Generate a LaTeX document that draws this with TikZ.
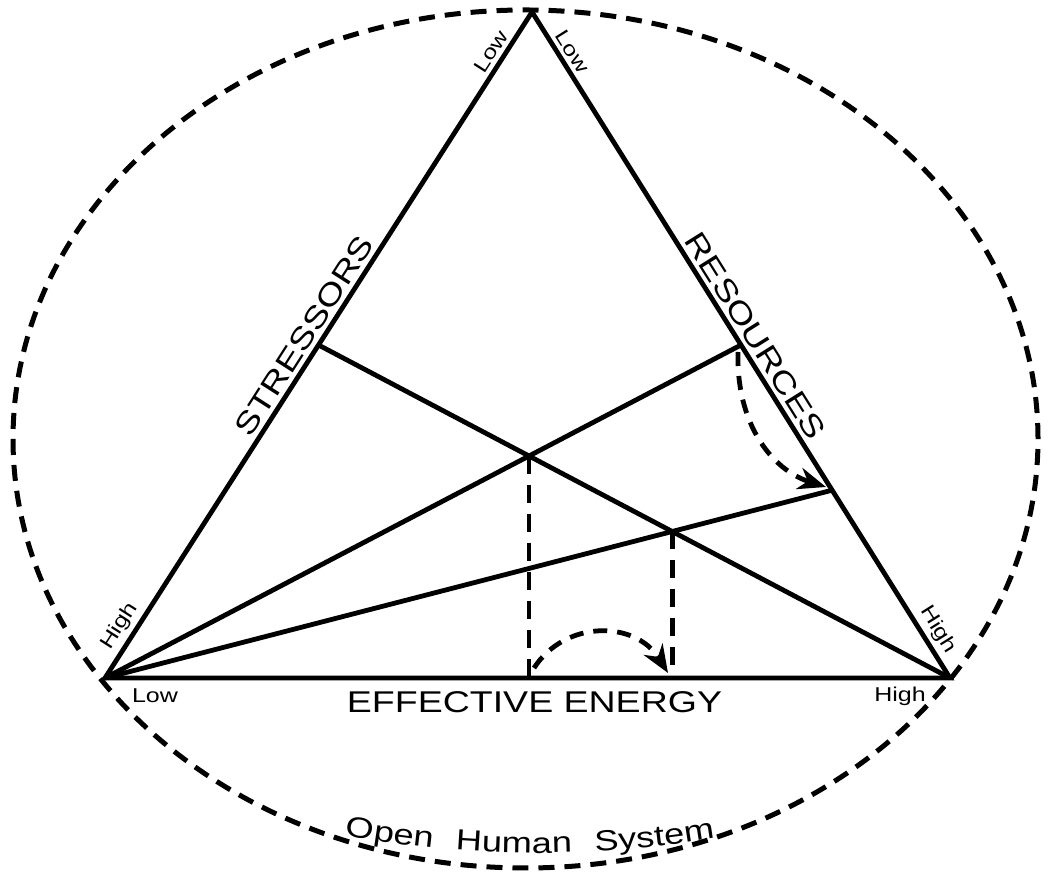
\documentclass[tikz,border=0pt]{standalone}
\usepackage{fontspec}
\setmainfont{Liberation Sans}
\newfontfamily\wide[FakeStretch=1.25]{Liberation Sans}
\usetikzlibrary{calc,arrows.meta,decorations.text}
\begin{document}
\begin{tikzpicture}[x=1pt,y=1pt,
  edge/.style={line width=4.8pt, line join=miter},
  sysdash/.style={line width=5pt, dash pattern=on 16pt off 10pt},
  vdash/.style={line width=4.8pt, dash pattern=on 18pt off 11pt},
  curvearrow/.style={line width=4.8pt, dash pattern=on 14pt off 10pt, -{Stealth[length=28pt,width=22pt,inset=9pt]}},
  biglabel/.style={font=\wide\fontsize{30}{34}\selectfont, inner sep=0pt},
  smalllabel/.style={font=\wide\fontsize{20}{22}\selectfont, inner sep=0pt}]
\useasboundingbox (0,0) rectangle (1048,874);

% triangle vertices and points
\coordinate (T) at (532,862);
\coordinate (BL) at (105,196);
\coordinate (BR) at (950,196);
\coordinate (S) at ($(BL)!0.5!(T)$);
\coordinate (R1) at ($(T)!0.5!(BR)$);
\coordinate (R2) at ($(T)!0.718!(BR)$);
\coordinate (G) at (intersection of S--BR and BL--R1);
\coordinate (H) at (intersection of S--BR and BL--R2);

% open system boundary
\draw[sysdash] (525.5,435) ellipse [x radius=512.5, y radius=429];

% triangle and lines
\draw[edge] (BL) -- (T) -- (BR) -- cycle;
\draw[edge] (S) -- (BR);
\draw[edge] (BL) -- (R1);
\draw[edge] (BL) -- (R2);

% dashed verticals
\draw[vdash] (G) -- (G |- BL);
\draw[vdash] (H) -- (H |- BL);

% curved arrows
\coordinate (c1s) at (534,206);
\coordinate (c1e) at (668,201);
\draw[curvearrow] (c1s) .. controls (565,254) and (635,254) .. (c1e);
\coordinate (c2s) at (738,522);
\coordinate (c2e) at (826,387);
\draw[curvearrow] (c2s) .. controls (736,450) and (772,404) .. (c2e);

% edge labels
\path (BL) -- (T) node[biglabel, sloped, above=6pt, pos=0.5] (stressors) {STRESSORS};
\path (T) -- (BR) node[biglabel, sloped, above=6pt, pos=0.5] (resources) {RESOURCES};
\node[biglabel, anchor=base] (energy) at (534.5,161) {EFFECTIVE ENERGY};

% small labels
\path (BL) -- (T) node[smalllabel, sloped, above=6pt, pos=0.93] (lowtl) {Low};
\path (T) -- (BR) node[smalllabel, sloped, above=6pt, pos=0.07] (lowtr) {Low};
\path (BL) -- (T) node[smalllabel, sloped, above=6pt, pos=0.065] (highl) {High};
\path (T) -- (BR) node[smalllabel, sloped, above=6pt, pos=0.94] (highr) {High};
\node[smalllabel, anchor=base] (lowb) at (155,171) {Low};
\node[smalllabel, anchor=base] (highb) at (900,172) {High};

% curved system label
\path[decorate, decoration={text along path,
  text={|\wide\fontsize{29}{32}\selectfont|Open Human System},
  text align={fit to path stretching spaces}}]
  (345,39) .. controls (465,15.5) and (595,15.5) .. (715,36);
\end{tikzpicture}
\end{document}
